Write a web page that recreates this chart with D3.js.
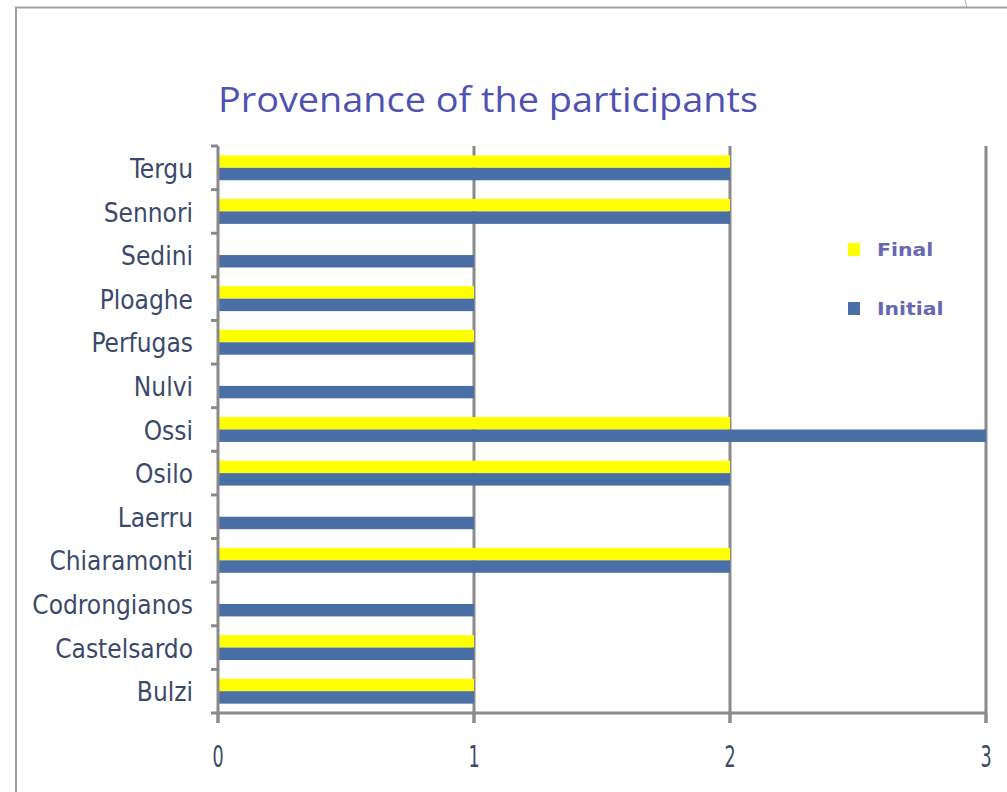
<!DOCTYPE html>
<html>
<head>
<meta charset="utf-8">
<script src="https://cdn.jsdelivr.net/npm/d3@7"></script>
<style>
  body { margin: 0; background: #fff; }
</style>
</head>
<body>
<svg id="chart" width="1007" height="792"></svg>
<script>
// Data, top to bottom
const towns = ["Tergu", "Sennori", "Sedini", "Ploaghe", "Perfugas", "Nulvi", "Ossi",
  "Osilo", "Laerru", "Chiaramonti", "Codrongianos", "Castelsardo", "Bulzi"];
const finalCounts = [2, 2, 0, 1, 1, 0, 2, 2, 0, 2, 0, 1, 1];
const initialCounts = [2, 2, 1, 1, 1, 1, 3, 2, 1, 2, 1, 1, 1];
const seriesNames = ["Final", "Initial"];
const xTicks = [0, 1, 2, 3];

const svg = d3.select("#chart");
const margin = { top: 146, right: 21, bottom: 79, left: 218 };
const width = 1007, height = 792;
const axisGrey = "#8a8a8a";
const labelFont = "DejaVu Sans Condensed, sans-serif";

// frame of the slide
svg.append("path")
  .attr("d", "M16,792 V7.5 H1007")
  .attr("fill", "none").attr("stroke", "#a0a0a0").attr("stroke-width", 2);
svg.append("path")
  .attr("d", "M965,0 L967,7")
  .attr("fill", "none").attr("stroke", "#b0b0b0").attr("stroke-width", 1);

svg.append("text")
  .attr("x", 218).attr("y", 112)
  .attr("font-family", "Open Sans, sans-serif")
  .attr("font-size", 35)
  .attr("fill", "#4f52b2")
  .attr("textLength", 540)
  .attr("lengthAdjust", "spacingAndGlyphs")
  .text("Provenance of the participants");

const x = d3.scaleLinear().domain([0, 3]).range([margin.left, width - margin.right]);
const y = d3.scaleBand().domain(towns).range([margin.top, height - margin.bottom]);
const sub = d3.scaleBand().domain(seriesNames).range([0, y.bandwidth()]).paddingOuter(0.75);

// gridlines
svg.append("g")
  .selectAll("line")
  .data(xTicks.slice(1))
  .join("line")
  .attr("x1", d => x(d)).attr("x2", d => x(d))
  .attr("y1", margin.top).attr("y2", height - margin.bottom + 10)
  .attr("stroke", axisGrey).attr("stroke-width", 3);

// bars
const rows = towns.map((t, i) => ({ t, Final: finalCounts[i], Initial: initialCounts[i] }));
const colors = { Final: "#ffff00", Initial: "#4a6fa6" };
const g = svg.append("g");
seriesNames.forEach(s => {
  g.selectAll(null)
    .data(rows.filter(d => d[s] > 0))
    .join("rect")
    .attr("x", x(0))
    .attr("y", d => y(d.t) + sub(s))
    .attr("width", d => x(d[s]) - x(0))
    .attr("height", sub.bandwidth())
    .attr("fill", colors[s]);
});

// y axis
const yAxis = svg.append("g")
  .attr("transform", `translate(${margin.left},0)`);
yAxis.append("line")
  .attr("x1", 0).attr("x2", 0)
  .attr("y1", margin.top).attr("y2", height - margin.bottom + 10)
  .attr("stroke", axisGrey).attr("stroke-width", 3);
yAxis.selectAll(".tick")
  .data(d3.range(towns.length + 1))
  .join("line")
  .attr("x1", -7).attr("x2", 0)
  .attr("y1", i => margin.top + i * y.step())
  .attr("y2", i => margin.top + i * y.step())
  .attr("stroke", axisGrey).attr("stroke-width", 3);
yAxis.selectAll("text")
  .data(towns)
  .join("text")
  .attr("x", -25)
  .attr("y", d => y(d) + y.bandwidth() / 2 + 1)
  .attr("dy", "0.35em")
  .attr("text-anchor", "end")
  .attr("font-family", labelFont)
  .attr("font-size", 26)
  .attr("fill", "#3b4a6b")
  .text(d => d);

// x axis
const xAxis = svg.append("g")
  .attr("transform", `translate(0,${height - margin.bottom})`);
xAxis.append("line")
  .attr("x1", x(0)).attr("x2", x(3))
  .attr("stroke", axisGrey).attr("stroke-width", 3);
xAxis.selectAll(".tk")
  .data(xTicks)
  .join("line")
  .attr("x1", d => x(d)).attr("x2", d => x(d))
  .attr("y1", 0).attr("y2", 10)
  .attr("stroke", axisGrey).attr("stroke-width", 3);
xAxis.selectAll("text")
  .data(xTicks)
  .join("text")
  .attr("transform", d => `translate(${x(d)},54) scale(0.65,1)`)
  .attr("text-anchor", "middle")
  .attr("font-family", labelFont)
  .attr("font-size", 30)
  .attr("fill", "#3b4a6b")
  .text(d => d);

// legend
const legend = svg.append("g").attr("transform", "translate(848,243)");
seriesNames.forEach((s, i) => {
  const row = legend.append("g").attr("transform", `translate(0,${i * 59})`);
  row.append("rect").attr("width", 12).attr("height", 13).attr("fill", colors[s]);
  row.append("text")
    .attr("transform", "translate(29,12.5) scale(1.2,1)")
    .attr("font-family", "DejaVu Sans, Verdana, sans-serif")
    .attr("font-size", 17)
    .attr("font-weight", "bold")
    .attr("fill", "#6767b2")
    .text(s);
});
</script>
</body>
</html>
